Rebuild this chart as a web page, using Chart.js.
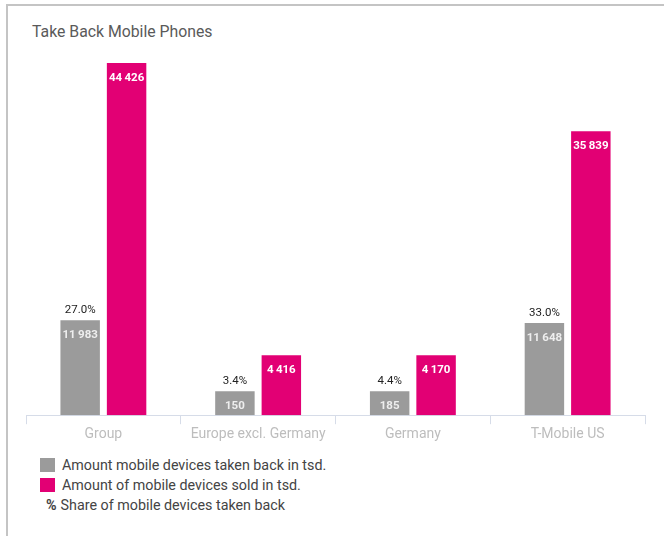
<!DOCTYPE html>
<html>
<head>
<meta charset="utf-8">
<script src="https://cdn.jsdelivr.net/npm/chart.js@4"></script>
<style>
    body {
        margin: 0;
        background: #fff;
        font-family: Roboto, "Open Sans", sans-serif;
    }
    #frame {
        position: absolute;
        left: 6px;
        top: 4px;
        width: 670px;
        height: 540px;
        border-top: 2px solid #c4c4c4;
        border-left: 2px solid #c4c4c4;
    }
    #title {
        position: absolute;
        left: 32px;
        top: 22px;
        font-size: 15.8px;
        color: #5a5a5a;
    }
    #chartBox {
        position: absolute;
        left: 0;
        top: 0;
        width: 664px;
        height: 445px;
    }
    #legend {
        position: absolute;
        left: 40px;
        top: 455px;
        font-size: 14.3px;
        color: #444;
    }
    .item {
        height: 20px;
        line-height: 18px;
        display: flex;
        align-items: center;
    }
    .box {
        width: 15px;
        height: 14px;
        margin-right: 7px;
    }
    .pct {
        font-weight: bold;
        margin-left: 6px;
        margin-right: 4px;
    }
</style>
</head>
<body>
<div id="frame"></div>
<div id="title">Take Back Mobile Phones</div>
<div id="chartBox"><canvas id="chart"></canvas></div>
<div id="legend">
    <div class="item"><span class="box" style="background:#9b9b9b"></span>Amount mobile devices taken back in tsd.</div>
    <div class="item"><span class="box" style="background:#e20074"></span>Amount of mobile devices sold in tsd.</div>
    <div class="item"><span class="pct">%</span>Share of mobile devices taken back</div>
</div>
<script>
const categories = ['Group', 'Europe excl. Germany', 'Germany', 'T-Mobile US'];
const takenBack = [11983, 150, 185, 11648];
const sold = [44426, 4416, 4170, 35839];
const sharePct = [27.0, 3.4, 4.4, 33.0];

const GREY = '#9b9b9b';
const MAGENTA = '#e20074';

function fmt(n) {
    return String(n).replace(/\B(?=(\d{3})+(?!\d))/g, '\u2009');
}

// value labels inside bars + share above the grey bars
const barLabels = {
    id: 'barLabels',
    afterDatasetsDraw(chart) {
        const ctx = chart.ctx;
        ctx.save();
        ctx.textAlign = 'center';
        ctx.textBaseline = 'middle';
        chart.data.datasets.forEach((ds, di) => {
            const meta = chart.getDatasetMeta(di);
            meta.data.forEach((bar, i) => {
                ctx.font = 'bold 11.5px Roboto, sans-serif';
                ctx.fillStyle = di === 0 ? '#eeeeee' : '#ffffff';
                ctx.fillText(fmt(ds.data[i]), bar.x, bar.y + 15);
                if (di === 0) {
                    ctx.font = '11.5px Roboto, sans-serif';
                    ctx.fillStyle = '#222';
                    ctx.fillText(sharePct[i].toFixed(1) + '%', bar.x, bar.y - 10);
                }
            });
        });
        ctx.restore();
    }
};

new Chart(document.getElementById('chart'), {
    type: 'bar',
    data: {
        labels: categories,
        datasets: [
            {
                label: 'Amount mobile devices taken back in tsd.',
                data: takenBack,
                backgroundColor: GREY,
                minBarLength: 24,
            },
            {
                label: 'Amount of mobile devices sold in tsd.',
                data: sold,
                backgroundColor: MAGENTA,
                minBarLength: 60,
            }
        ]
    },
    options: {
        responsive: true,
        maintainAspectRatio: false,
        animation: false,
        categoryPercentage: 0.6,
        barPercentage: 0.85,
        layout: {
            padding: {left: 26, right: 19, top: 53, bottom: 0}
        },
        plugins: {
            legend: {display: false},
            tooltip: {enabled: false}
        },
        scales: {
            x: {
                grid: {
                    offset: true,
                    drawOnChartArea: false,
                    tickLength: 9,
                    color: '#d6dce8'
                },
                border: {color: '#d6dce8'},
                ticks: {
                    color: '#bdbdbd',
                    padding: 2,
                    font: {family: 'Roboto, sans-serif', size: 14}
                }
            },
            y: {
                display: false,
                min: 0,
                max: 45700
            }
        }
    },
    plugins: [barLabels]
});
</script>
</body>
</html>
